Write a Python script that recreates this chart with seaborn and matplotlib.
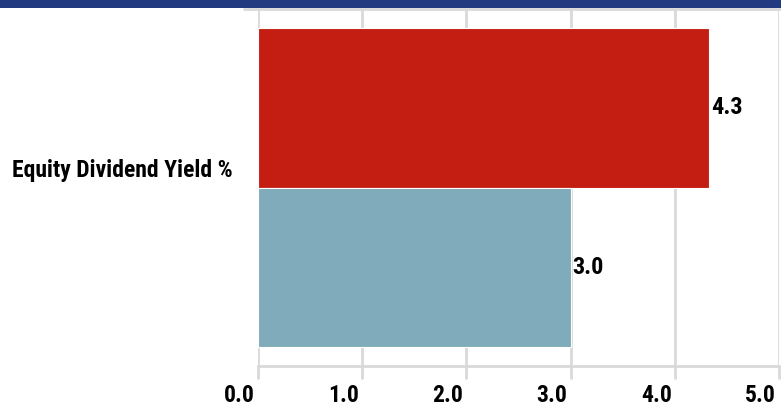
import matplotlib
matplotlib.use("Agg")
import matplotlib.pyplot as plt
import matplotlib.transforms as mtransforms
from matplotlib.lines import Line2D
from matplotlib.patches import Rectangle
import seaborn as sns
import pandas as pd

# Data
metrics = ["Equity Dividend Yield %"]
series = ["Fund", "Index"]
values = [4.33, 3.0]
x_ticks = [0.0, 1.0, 2.0, 3.0, 4.0, 5.0]

colors = ["#C41D12", "#80ABBA"]
navy = "#223A80"
grid = "#D9D9D9"

df = pd.DataFrame({
    "metric": [metrics[0]] * len(series),
    "series": series,
    "value": values,
})

sns.set_theme(style="white")
plt.rcParams["font.family"] = ["Roboto Condensed", "Archivo Narrow", "Barlow Semi Condensed", "DejaVu Sans"]
plt.rcParams["font.weight"] = "bold"

W, H, DPI = 781, 403, 100
fig = plt.figure(figsize=(W / DPI, H / DPI), dpi=DPI)
ax = fig.add_axes([258 / W, 1 - 366 / H, (779 - 258) / W, (366 - 9) / H])

sns.barplot(data=df, x="value", y="metric", hue="series", palette=colors,
            orient="h", width=0.8, dodge=True, saturation=1, legend=False,
            edgecolor="white", linewidth=0.8, ax=ax, zorder=3)

ax.set_xlim(0, 5)
ax.set_ylim(0.447, -0.447)
ax.set_xticks(x_ticks)
ax.set_xticklabels([f"{t:.1f}" for t in x_ticks], fontsize=17, fontweight="bold", ha="right")
ax.set_xlabel("")
ax.set_ylabel("")

ax.grid(axis="x", color=grid, linewidth=2, zorder=0)
ax.grid(axis="y", visible=False)
for side in ["top", "right", "left"]:
    ax.spines[side].set_visible(False)
ax.spines["bottom"].set_color(grid)
ax.spines["bottom"].set_linewidth(2)

ax.tick_params(axis="x", length=9, width=2, color=grid, pad=4, labelcolor="black", bottom=True)
ax.tick_params(axis="y", length=0, pad=18, labelsize=17, labelcolor="black")

# Tick labels end just left of their gridline
for lab in ax.get_xticklabels():
    lab.set_transform(lab.get_transform() +
                      mtransforms.ScaledTranslation(-3 / DPI, 0, fig.dpi_scale_trans))

# Category label sits a little above the category centre
for lab in ax.get_yticklabels():
    lab.set_fontweight("bold")
    lab.set_transform(lab.get_transform() +
                      mtransforms.ScaledTranslation(0, 19 / DPI, fig.dpi_scale_trans))

for cont in ax.containers:
    ax.bar_label(cont, fmt="%.1f", padding=1.5, fontsize=17.5, fontweight="bold", color="black")

# Header band and top rule
fig.patches.append(Rectangle((0, 1 - 8 / H), 1, 8 / H, transform=fig.transFigure,
                             facecolor=navy, edgecolor="none", zorder=5))
fig.lines.append(Line2D([244 / W, 1], [1 - 9 / H, 1 - 9 / H], transform=fig.transFigure,
                        color=grid, linewidth=2, zorder=4))

fig.savefig("out.png", dpi=DPI, facecolor="white")
